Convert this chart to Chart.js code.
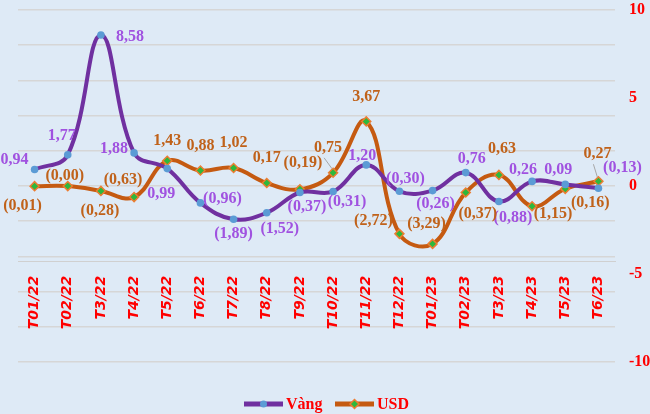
<!DOCTYPE html>
<html>
<head>
<meta charset="utf-8">
<script src="https://cdn.jsdelivr.net/npm/chart.js@4"></script>
<style>
  html, body { margin: 0; padding: 0; background: #DEEAF6; }
  #wrap { width: 650px; height: 414px; position: relative; }
</style>
</head>
<body>
<div id="wrap"><canvas id="chart"></canvas></div>
<script>
const months = ['T01/22', 'T02/22', 'T3/22', 'T4/22', 'T5/22', 'T6/22', 'T7/22', 'T8/22', 'T9/22',
  'T10/22', 'T11/22', 'T12/22', 'T01/23', 'T02/23', 'T3/23', 'T4/23', 'T5/23', 'T6/23']
const vang = [0.94, 1.77, 8.58, 1.88, 0.99, -0.96, -1.89, -1.52, -0.37,
  -0.31, 1.20, -0.30, -0.26, 0.76, -0.88, 0.26, 0.09, -0.13]
const usd = [-0.01, -0.004, -0.28, -0.63, 1.43, 0.88, 1.02, 0.17, -0.19,
  0.75, 3.67, -2.72, -3.29, -0.37, 0.63, -1.15, -0.16, 0.27]
const yTicks = [-10, -5, 0, 5, 10]

// where each value label sits relative to its point (px)
const vangLabelOffset = [[-20, -10], [-6, -19], [29, 2], [-20, -4], [-6, 25], [22, -4], [0, 15], [13, 16], [7, 14],
  [14, 10], [-4, -9], [6, -12], [3, 13], [6, -14], [14, 16], [-9, -12], [-7, -15], [24, -20]]
const usdLabelOffset = [[-12, 20], [-3, -10], [-1, 20], [-11, -17], [0, -20], [0, -25], [0, -25], [0, -25], [3, -26],
  [-5, -25], [0, -25], [-26, -13], [-6, -20], [12, 21], [3, -26], [21, 8], [25, 14], [-1, -27]]
const usdLeaders = [9, 17]

const fmt = v => {
  const s = Math.abs(v).toFixed(2).replace('.', ',')
  return v < 0 ? '(' + s + ')' : s
}

const labelPlugin = {
  id: 'valueLabels',
  afterDatasetsDraw(chart) {
    const ctx = chart.ctx
    const sets = [
      { idx: 0, data: vang, off: vangLabelOffset, color: '#A052E0', leaders: [] },
      { idx: 1, data: usd, off: usdLabelOffset, color: '#C0621A', leaders: usdLeaders }
    ]
    ctx.save()
    ctx.font = 'bold 16px "Liberation Serif"'
    ctx.textAlign = 'center'
    ctx.textBaseline = 'middle'
    sets.forEach(s => {
      const meta = chart.getDatasetMeta(s.idx)
      meta.data.forEach((pt, i) => {
        const [dx, dy] = s.off[i]
        if (s.leaders.includes(i)) {
          ctx.strokeStyle = '#A6A6A6'
          ctx.lineWidth = 1
          ctx.beginPath()
          ctx.moveTo(pt.x + dx - 4, pt.y + dy + 10)
          ctx.lineTo(pt.x - 1, pt.y - 4)
          ctx.stroke()
        }
        ctx.fillStyle = s.color
        ctx.fillText(fmt(s.data[i]), pt.x + dx, pt.y + dy)
      })
    })
    ctx.restore()
  }
}

const legendPlugin = {
  id: 'bottomLegend',
  afterDraw(chart) {
    const ctx = chart.ctx
    const y = 404
    const items = [
      { x: 244, text: 'Vàng', line: '#7030A0', fill: '#5B9BD5', style: 'circle' },
      { x: 335, text: 'USD', line: '#C55A11', fill: '#2DB83D', style: 'diamond' }
    ]
    ctx.save()
    items.forEach(it => {
      ctx.strokeStyle = it.line
      ctx.lineWidth = 5
      ctx.beginPath()
      ctx.moveTo(it.x, y)
      ctx.lineTo(it.x + 39, y)
      ctx.stroke()
      const cx = it.x + 19.5
      ctx.fillStyle = it.fill
      ctx.beginPath()
      if (it.style === 'circle') {
        ctx.arc(cx, y, 3.5, 0, Math.PI * 2)
        ctx.fill()
      } else {
        ctx.moveTo(cx, y - 4.5); ctx.lineTo(cx + 4.5, y); ctx.lineTo(cx, y + 4.5); ctx.lineTo(cx - 4.5, y)
        ctx.closePath()
        ctx.fill()
        ctx.strokeStyle = '#ED7D31'
        ctx.lineWidth = 1.5
        ctx.stroke()
      }
      ctx.fillStyle = '#FF0000'
      ctx.font = 'bold 16px "Liberation Serif"'
      ctx.textAlign = 'left'
      ctx.textBaseline = 'middle'
      ctx.fillText(it.text, it.x + 42, y + 1)
    })
    ctx.restore()
  }
}

new Chart(document.getElementById('chart'), {
  type: 'line',
  data: {
    labels: months,
    datasets: [{
      label: 'Vàng',
      data: vang,
      borderColor: '#7030A0',
      borderWidth: 4,
      backgroundColor: '#5B9BD5',
      pointBackgroundColor: '#5B9BD5',
      pointBorderWidth: 0,
      pointRadius: 3.8,
      pointStyle: 'circle',
      tension: 0.4
    }, {
      label: 'USD',
      data: usd,
      borderColor: '#C55A11',
      borderWidth: 4,
      backgroundColor: '#2DB83D',
      pointBackgroundColor: '#2DB83D',
      pointBorderColor: '#ED7D31',
      pointBorderWidth: 1.5,
      pointRadius: 4.5,
      pointStyle: 'rectRot',
      tension: 0.4
    }]
  },
  options: {
    responsive: true,
    maintainAspectRatio: false,
    animation: false,
    clip: false,
    layout: { padding: { left: 18, top: 10, right: 0, bottom: 52 } },
    scales: {
      x: {
        position: { y: -4.3 },
        offset: true,
        grid: { display: false, drawTicks: false },
        border: { display: true, color: '#D0D0D0', width: 1 },
        ticks: {
          color: '#FF0000',
          font: { family: 'DejaVu Sans', size: 14, weight: 'bold', style: 'italic' },
          minRotation: 90,
          maxRotation: 90,
          padding: 14,
          autoSkip: false
        }
      },
      y: {
        position: 'left',
        min: -10,
        max: 10,
        ticks: { stepSize: 2, display: false },
        grid: { color: '#D6D6D6', lineWidth: 1.5, drawTicks: false },
        border: { display: false }
      },
      y2: {
        position: 'right',
        min: -10,
        max: 10,
        afterBuildTicks: scale => { scale.ticks = yTicks.map(v => ({ value: v })) },
        afterFit: scale => {
          scale.width = 35
          scale.paddingTop = 8
          scale.paddingBottom = 8
        },
        ticks: {
          color: '#FF0000',
          font: { family: 'Liberation Serif', size: 16, weight: 'bold' },
          padding: 14
        },
        grid: { drawOnChartArea: false, drawTicks: false },
        border: { display: false }
      }
    },
    plugins: {
      legend: { display: false },
      tooltip: { enabled: false }
    }
  },
  plugins: [labelPlugin, legendPlugin]
})
</script>
</body>
</html>
